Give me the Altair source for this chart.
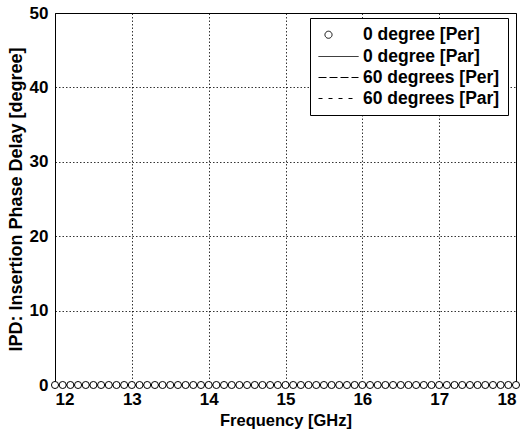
import altair as alt
import pandas as pd

# Data: all series lie at 0 degree over 12-18 GHz (0.1 GHz step)
freq = [round(12 + 0.1 * i, 1) for i in range(61)]
ipd_per0 = [0.0] * 61
ipd_par0 = [0.0] * 61
ipd_per60 = [0.0] * 61
ipd_par60 = [0.0] * 61

series_names = ["0 degree [Per]", "0 degree [Par]", "60 degrees [Per]", "60 degrees [Par]"]

rows = []
for name, vals in zip(series_names, [ipd_per0, ipd_par0, ipd_per60, ipd_par60]):
    for f, v in zip(freq, vals):
        rows.append({"freq": f, "ipd": v, "series": name})
df = pd.DataFrame(rows)

font = "Liberation Sans"

x = alt.X("freq:Q", title="Frequency [GHz]",
          scale=alt.Scale(domain=[12, 18], nice=False, zero=False),
          axis=alt.Axis(values=[12, 13, 14, 15, 16, 17, 18], format="d"))
y = alt.Y("ipd:Q", title="IPD: Insertion Phase Delay [degree]",
          scale=alt.Scale(domain=[0, 50], nice=False),
          axis=alt.Axis(values=[0, 10, 20, 30, 40, 50]))

legend = alt.Legend(title=None, orient="none", legendX=255, legendY=5,
                    fillColor="white", strokeColor="black", padding=8,
                    labelFont=font, labelFontSize=17.5, labelFontWeight="bold",
                    labelColor="black", symbolStrokeColor="black",
                    symbolFillColor="white", symbolOpacity=1,
                    symbolStrokeWidth=1, rowPadding=2, labelOffset=24)

line_sym = "M-1,0H3"
dash_scale = alt.Scale(domain=series_names, range=[[1, 0], [1, 0], [8, 3], [4, 6]])
shape_scale = alt.Scale(domain=series_names, range=["circle", line_sym, line_sym, line_sym])
size_scale = alt.Scale(type="ordinal", domain=series_names, range=[50, 400, 400, 400])
color_scale = alt.Scale(domain=series_names, range=["black", "black", "black", "black"])

lines = alt.Chart(df).mark_line(strokeWidth=1, clip=False).encode(
    x=x, y=y,
    color=alt.Color("series:N", scale=color_scale, legend=legend),
    strokeDash=alt.StrokeDash("series:N", scale=dash_scale, legend=legend),
)

points = alt.Chart(df[df["series"] == "0 degree [Per]"]).mark_point(
    filled=False, fill="white", fillOpacity=1, strokeWidth=1, opacity=1, clip=False
).encode(
    x=x, y=y,
    color=alt.Color("series:N", scale=color_scale, legend=legend),
    shape=alt.Shape("series:N", scale=shape_scale, legend=legend),
    size=alt.Size("series:N", scale=size_scale, legend=legend),
)

chart = alt.layer(lines, points).properties(
    width=461, height=372,
    autosize=alt.AutoSizeParams(type="none"),
    padding={"left": 55, "top": 13, "right": 7, "bottom": 49},
).configure_view(stroke="black", strokeWidth=1).configure_axis(
    grid=True, gridColor="black", gridDash=[1.5, 2], gridOpacity=1, gridWidth=0.8,
    domain=False, ticks=False,
    labelFont=font, labelFontSize=17, labelFontWeight="bold", labelColor="black",
    titleFont=font, titleFontSize=16.5, titleFontWeight="bold", titleColor="black",
).configure_axisY(labelPadding=7, titlePadding=4, titleFontSize=18).configure_axisX(labelPadding=6, titlePadding=5)

chart.save("out.html", embed_options={"renderer": "svg", "actions": False})
